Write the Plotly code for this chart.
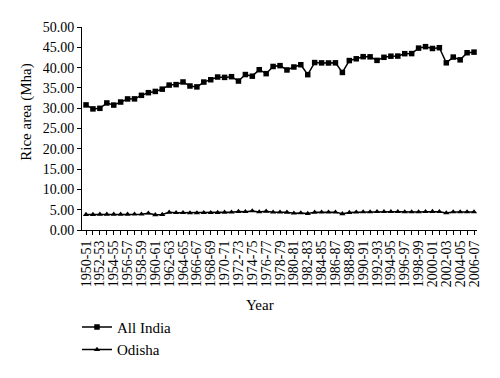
import plotly.graph_objects as go

years = ["1950-51","1951-52","1952-53","1953-54","1954-55","1955-56","1956-57","1957-58","1958-59","1959-60",
         "1960-61","1961-62","1962-63","1963-64","1964-65","1965-66","1966-67","1967-68","1968-69","1969-70",
         "1970-71","1971-72","1972-73","1973-74","1974-75","1975-76","1976-77","1977-78","1978-79","1979-80",
         "1980-81","1981-82","1982-83","1983-84","1984-85","1985-86","1986-87","1987-88","1988-89","1989-90",
         "1990-91","1991-92","1992-93","1993-94","1994-95","1995-96","1996-97","1997-98","1998-99","1999-00",
         "2000-01","2001-02","2002-03","2003-04","2004-05","2005-06","2006-07"]

all_india = [30.81, 29.83, 29.97, 31.29, 30.77, 31.52, 32.28, 32.30, 33.17, 33.82,
             34.13, 34.69, 35.69, 35.81, 36.46, 35.47, 35.25, 36.44, 37.01, 37.68,
             37.59, 37.76, 36.69, 38.29, 37.89, 39.48, 38.51, 40.28, 40.48, 39.42,
             40.15, 40.71, 38.26, 41.24, 41.16, 41.14, 41.17, 38.81, 41.73, 42.17,
             42.69, 42.65, 41.78, 42.54, 42.81, 42.84, 43.43, 43.45, 44.80, 45.16,
             44.71, 44.90, 41.18, 42.59, 41.91, 43.66, 43.81]

odisha = [3.80, 3.80, 3.85, 3.85, 3.85, 3.85, 3.85, 3.90, 3.90, 4.15,
          3.75, 3.80, 4.35, 4.25, 4.25, 4.20, 4.20, 4.25, 4.25, 4.30,
          4.35, 4.40, 4.55, 4.50, 4.70, 4.45, 4.60, 4.40, 4.40, 4.35,
          4.15, 4.20, 4.05, 4.35, 4.40, 4.40, 4.40, 4.00, 4.30, 4.40,
          4.45, 4.45, 4.50, 4.50, 4.50, 4.50, 4.45, 4.45, 4.45, 4.50,
          4.55, 4.50, 4.20, 4.45, 4.45, 4.45, 4.45]

y_ticks = [0, 5, 10, 15, 20, 25, 30, 35, 40, 45, 50]

idx = list(range(len(years)))
tick_text = [y if i % 2 == 0 else "" for i, y in enumerate(years)]

FONT = "Liberation Serif, Times New Roman, serif"

# page has an 8px body margin; figure is sized/positioned to compensate
W, H = 492, 370
ML, MT, MR, MB = 74, 17, 23, 147
pl, pr, pt, pb = ML, W - MR, MT, H - MB

def px2paper(x, y):
    return (x - pl) / (pr - pl), (pb - y) / (pb - pt)

fig = go.Figure()
fig.add_trace(go.Scatter(x=idx, y=all_india, mode="lines+markers", name="All India",
                         legendgroup="a",
                         line=dict(color="black", width=1.5),
                         marker=dict(symbol="square", size=5.5, color="black")))
fig.add_trace(go.Scatter(x=idx, y=odisha, mode="lines+markers", name="Odisha",
                         legendgroup="b",
                         line=dict(color="black", width=1.5),
                         marker=dict(symbol="triangle-up", size=5.5, color="black")))

yx, yy = px2paper(251.5, 299)
rx, ry = px2paper(19, 104)
lx, ly = px2paper(69, 305)

fig.update_layout(
    width=W, height=H,
    margin=dict(l=ML, r=MR, t=MT, b=MB),
    paper_bgcolor="white", plot_bgcolor="white",
    font=dict(family=FONT, size=14, color="black"),
    showlegend=True,
    legend=dict(x=lx, y=ly, xanchor="left", yanchor="top",
                font=dict(size=15), tracegroupgap=0, itemwidth=30,
                bgcolor="rgba(0,0,0,0)"),
    xaxis=dict(range=[-0.58, 56.43], tickmode="array", tickvals=idx, ticktext=tick_text,
               tickangle=-90, ticks="outside", ticklen=4, tickcolor="black",
               showline=True, linecolor="black", linewidth=1, showgrid=False, zeroline=False,
               tickfont=dict(size=14)),
    yaxis=dict(range=[0, 50], tickmode="array", tickvals=y_ticks, tickformat=".2f",
               ticks="outside", ticklen=4, tickcolor="black",
               showline=True, linecolor="black", linewidth=1, showgrid=False, zeroline=False,
               tickfont=dict(size=14)),
    annotations=[
        dict(text="Year", x=yx, y=yy, xref="paper", yref="paper", showarrow=False,
             xanchor="center", yanchor="middle", font=dict(size=15)),
        dict(text="Rice area (Mha)", x=rx, y=ry, xref="paper", yref="paper", textangle=-90,
             showarrow=False, xanchor="center", yanchor="middle", font=dict(size=15)),
    ],
)

fig.write_html("out.html")
